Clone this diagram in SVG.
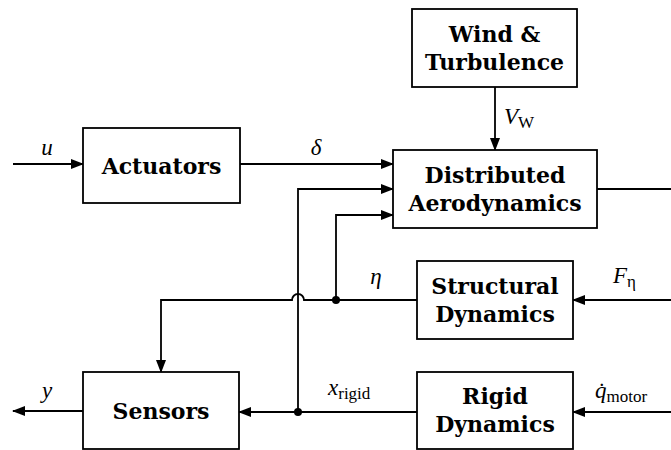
<svg xmlns="http://www.w3.org/2000/svg" width="671" height="450" viewBox="0 0 671 450">
<style>
.box{fill:#fff;stroke:#000;stroke-width:1.8}
.lbl{font-family:"DejaVu Serif","Liberation Serif",serif;font-weight:bold;font-size:22px;text-anchor:middle;fill:#000}
.wire{fill:none;stroke:#000;stroke-width:1.8}
.arr{marker-end:url(#ah)}
.m{font-family:"Liberation Serif","DejaVu Serif",serif;font-style:italic;font-size:23px;fill:#000}
.sub{font-style:normal;font-size:17px}
</style>
<defs>
<marker id="ah" markerUnits="userSpaceOnUse" markerWidth="14" markerHeight="10" refX="12" refY="5" orient="auto" overflow="visible">
<path d="M0,0 L13,5 L0,10 z" fill="#000"/>
</marker>
</defs>
<g id="connectors">
<path class="wire arr" d="M13,164 H83"/>
<path class="wire arr" d="M240,164 H393"/>
<path class="wire arr" d="M298,412 V189 H393"/>
<path class="wire arr" d="M336,300 V215 H393"/>
<path class="wire arr" d="M417,300 H304 A6,6 0 0 0 292,300 H161 V372"/>
<path class="wire arr" d="M417,412 H239"/>
<path class="wire arr" d="M83,411 H13"/>
<path class="wire arr" d="M495,87 V150"/>
<path class="wire" d="M597,189 H671"/>
<path class="wire arr" d="M671,300 H573"/>
<path class="wire arr" d="M671,412 H573"/>
<circle cx="336" cy="300" r="4" fill="#000"/>
<circle cx="298" cy="412" r="4" fill="#000"/>
<text class="m" x="47" y="155" text-anchor="middle">u</text>
<text class="m" x="316" y="155" text-anchor="middle">δ</text>
<text class="m" x="504" y="124">V<tspan class="sub" dy="4">W</tspan></text>
<text class="m" x="376" y="284" text-anchor="middle">η</text>
<text class="m" x="328" y="395">x<tspan class="sub" dy="4">rigid</tspan></text>
<text class="m" x="613" y="283">F<tspan class="sub" dy="4">η</tspan></text>
<text class="m" x="595" y="398">q̇<tspan class="sub" dy="4">motor</tspan></text>
<text class="m" x="47" y="398" text-anchor="middle">y</text>
</g>
<g id="actuators">
<rect class="box" x="83" y="128" width="157" height="75"/>
<text class="lbl" x="161.5" y="174">Actuators</text>
</g>
<g id="wind">
<rect class="box" x="412" y="9" width="165" height="78"/>
<text class="lbl" x="494.5" y="42">Wind &amp;</text>
<text class="lbl" x="494.5" y="70">Turbulence</text>
</g>
<g id="aero">
<rect class="box" x="393" y="150" width="204" height="78"/>
<text class="lbl" x="495" y="183">Distributed</text>
<text class="lbl" x="495" y="211">Aerodynamics</text>
</g>
<g id="structural">
<rect class="box" x="417" y="261" width="156" height="78"/>
<text class="lbl" x="495" y="294">Structural</text>
<text class="lbl" x="495" y="322">Dynamics</text>
</g>
<g id="rigid">
<rect class="box" x="417" y="372" width="156" height="77"/>
<text class="lbl" x="495" y="404">Rigid</text>
<text class="lbl" x="495" y="432">Dynamics</text>
</g>
<g id="sensors">
<rect class="box" x="83" y="372" width="156" height="77"/>
<text class="lbl" x="161" y="419">Sensors</text>
</g>
</svg>
